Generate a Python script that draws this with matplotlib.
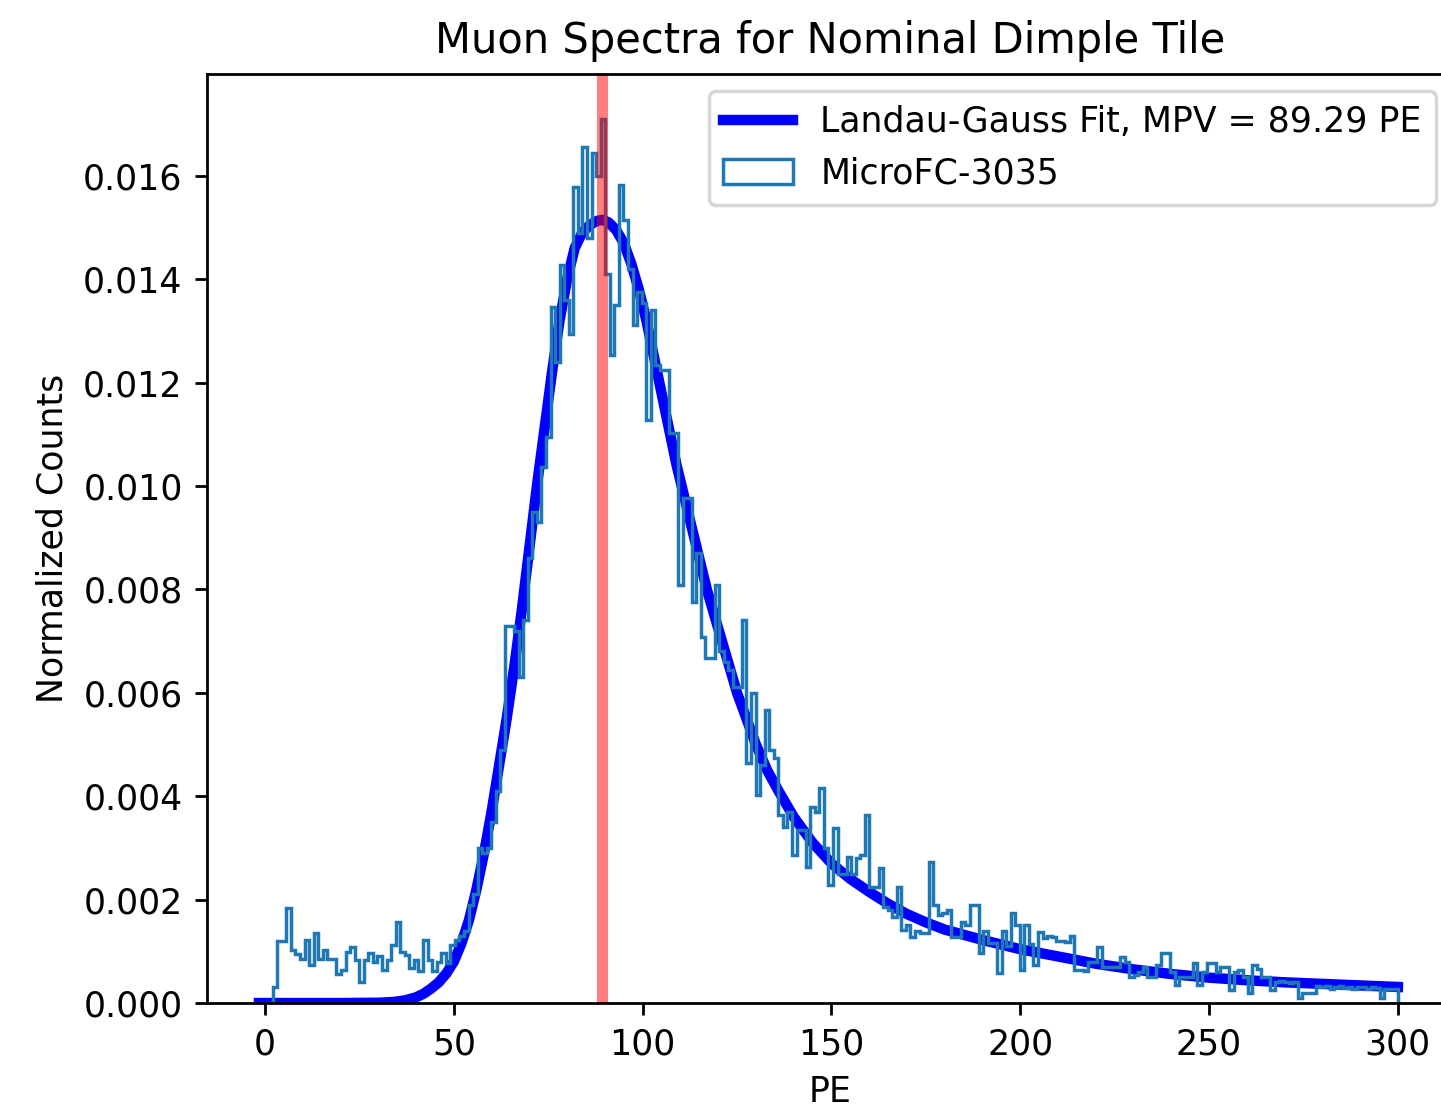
import numpy as np
import matplotlib
matplotlib.use("Agg")
import matplotlib.pyplot as plt

# ---------------- data ----------------
title = "Muon Spectra for Nominal Dimple Tile"
xlabel = "PE"
ylabel = "Normalized Counts"
fit_label = "Landau-Gauss Fit, MPV = 89.29 PE"
hist_label = "MicroFC-3035"
mpv = 89.29

pe_min = -1.6
pe_max = 300.0
n_bins = 250

counts = [
    0, 0, 0, 0.0003, 0.0012, 0.0012, 0.00183, 0.00103, 0.00095, 0.00086,
    0.00122, 0.00073, 0.00135, 0.00086, 0.00103, 0.00086, 0.00086, 0.00057, 0.00064, 0.00099,
    0.00109, 0.00083, 0.00041, 0.00083, 0.00096, 0.0008, 0.0009, 0.00064, 0.00083, 0.00112,
    0.00157, 0.00099, 0.00093, 0.00067, 0.00083, 0.00061, 0.00122, 0.00083, 0.00061, 0.0008,
    0.00096, 0.00077, 0.00112, 0.00122, 0.0013, 0.0014, 0.0019, 0.0021, 0.0030, 0.0029,
    0.0030, 0.0035, 0.0041, 0.0049, 0.0073, 0.0073, 0.0072, 0.0063, 0.0074, 0.0086,
    0.0095, 0.0093, 0.01037, 0.01095, 0.01347, 0.0124, 0.01427, 0.0136, 0.01295, 0.01579,
    0.01489, 0.01656, 0.0148, 0.01645, 0.0160, 0.0171, 0.0141, 0.01253, 0.0135, 0.01582,
    0.01514, 0.0142, 0.01311, 0.01376, 0.01354, 0.01128, 0.0134, 0.01234, 0.01224, 0.01224,
    0.01102, 0.01102, 0.00808, 0.00977, 0.00977, 0.00775, 0.0087, 0.00708, 0.00667, 0.00667,
    0.00808, 0.0068, 0.0066, 0.00644, 0.00611, 0.00611, 0.0074, 0.00464, 0.0060, 0.00402,
    0.0046, 0.00567, 0.00489, 0.00473, 0.00364, 0.0034, 0.0037, 0.00286, 0.00335, 0.00335,
    0.00264, 0.0038, 0.0037, 0.00415, 0.0030, 0.00228, 0.00338, 0.0025, 0.0025, 0.00283,
    0.0025, 0.0028, 0.00286, 0.00364, 0.00225, 0.00225, 0.00261, 0.00186, 0.0018, 0.00167,
    0.00225, 0.00141, 0.0015, 0.00128, 0.0014, 0.00135, 0.00135, 0.00273, 0.0019, 0.0017,
    0.00175, 0.0018, 0.00128, 0.00128, 0.00157, 0.0015, 0.0019, 0.0019, 0.00096, 0.0014,
    0.00116, 0.00116, 0.00058, 0.0014, 0.0011, 0.00174, 0.00151, 0.00064, 0.0015, 0.00115,
    0.00073, 0.00138, 0.00125, 0.0013, 0.00128, 0.0012, 0.0012, 0.00118, 0.0013, 0.00064,
    0.00064, 0.00062, 0.0008, 0.0008, 0.00109, 0.0007, 0.0007, 0.0007, 0.0007, 0.00089,
    0.0008, 0.00051, 0.00055, 0.0006, 0.0007, 0.00051, 0.00051, 0.00074, 0.00096, 0.00096,
    0.0006, 0.00035, 0.0005, 0.0005, 0.0005, 0.00077, 0.00035, 0.0006, 0.00077, 0.00077,
    0.0006, 0.0007, 0.0007, 0.00025, 0.0006, 0.00064, 0.0005, 0.0002, 0.00074, 0.00065,
    0.0005, 0.0005, 0.00025, 0.0004, 0.00042, 0.0004, 0.00038, 0.0004, 0.0001, 0.0002,
    0.0002, 0.0002, 0.00032, 0.0003, 0.00032, 0.00028, 0.0003, 0.00033, 0.00029, 0.0003,
    0.00027, 0.0003, 0.00031, 0.00028, 0.0003, 0.00029, 0.0001, 0.00028, 0.00028, 0.00028,
]

fit_pe = [-1.6, 20, 30, 34, 37, 40, 42, 44, 46, 48, 50, 52, 54, 56, 58, 60, 62, 64, 66, 68,
          70, 72, 74, 76, 78, 80, 82, 84, 86, 88, 89.3, 91, 93, 95, 97, 99, 101, 103, 105,
          107, 109, 111, 113, 115, 117, 119, 121, 123, 125, 127, 130, 133, 136, 140, 145,
          150, 155, 160, 165, 170, 175, 180, 190, 200, 210, 220, 230, 240, 250, 260, 270,
          280, 290, 300]
fit_val = [0, 0, 0.000005, 0.00002, 0.00005, 0.00011, 0.00018, 0.00028, 0.0004, 0.00057,
           0.0008, 0.00115, 0.0016, 0.0022, 0.0029, 0.0037, 0.0046, 0.0055, 0.0065, 0.0076,
           0.0088, 0.0100, 0.0111, 0.0122, 0.0132, 0.0140, 0.0146, 0.0149, 0.01505, 0.01513,
           0.01515, 0.0151, 0.01495, 0.0147, 0.0143, 0.0138, 0.0132, 0.0125, 0.0118,
           0.0111, 0.0104, 0.0098, 0.0092, 0.0086, 0.0080, 0.0075, 0.0070, 0.0065, 0.0060,
           0.0056, 0.0050, 0.0045, 0.0041, 0.0036, 0.0031, 0.0027, 0.0024, 0.00215, 0.00192,
           0.00172, 0.00156, 0.00142, 0.00122, 0.00104, 0.0009, 0.00076, 0.00065, 0.00056,
           0.00049, 0.00044, 0.0004, 0.00037, 0.00034, 0.00031]

assert len(counts) == n_bins
assert len(fit_pe) == len(fit_val)

# ---------------- figure ----------------
W, H, DPI = 1441, 1108, 250
fig = plt.figure(figsize=(W / DPI, H / DPI), dpi=DPI)
# the original axes extend slightly past the right edge of the image
left, right, top, bottom = 207, 1453, 74, 1003
ax = fig.add_axes([left / W, (H - bottom) / H, (right - left) / W, (bottom - top) / H])

edges = np.linspace(pe_min, pe_max, n_bins + 1)
ax.plot(fit_pe, fit_val, color="blue", lw=3, label=fit_label, solid_joinstyle="round")
ax.hist(edges[:-1], bins=edges, weights=counts, histtype="step", color="#1f77b4",
        lw=1.0, label=hist_label)
ax.axvline(mpv, color="red", alpha=0.5, lw=3.2)

ax.set_xlim(-15.36, 314.6)
ax.set_ylim(0, 0.01797)
ax.set_xticks([0, 50, 100, 150, 200, 250, 300])
ax.set_yticks([0, 0.002, 0.004, 0.006, 0.008, 0.010, 0.012, 0.014, 0.016])
ax.set_title(title, fontsize=12)
ax.set_xlabel(xlabel, fontsize=10)
ax.set_ylabel(ylabel, fontsize=10)
ax.tick_params(labelsize=10)
ax.legend(loc="upper right", fontsize=10)

fig.savefig("out.png", dpi=DPI)
